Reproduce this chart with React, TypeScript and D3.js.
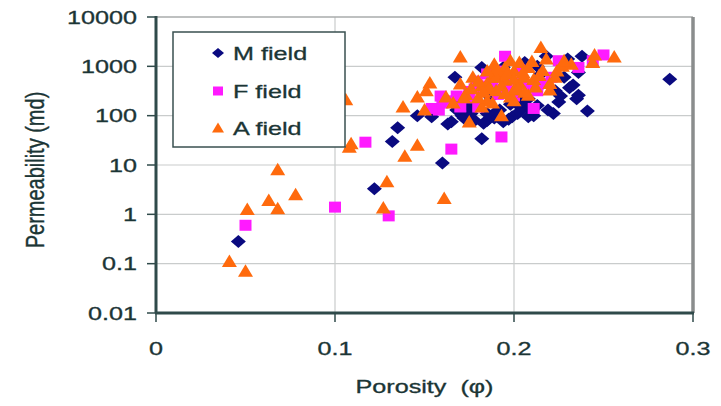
import React, { useEffect, useRef } from 'react';
import * as d3 from 'd3';

// M field (navy diamonds)
const mPhi = [0.046, 0.122, 0.132, 0.135, 0.16, 0.182, 0.287, 0.241, 0.167, 0.146, 0.154, 0.163, 0.218, 0.23, 0.236, 0.235, 0.231, 0.222, 0.225, 0.211, 0.202, 0.194, 0.189, 0.185, 0.194, 0.182, 0.17, 0.213, 0.223, 0.207, 0.198, 0.203, 0.216, 0.175, 0.171, 0.187, 0.206, 0.192, 0.199, 0.219, 0.228, 0.233, 0.208, 0.196, 0.178, 0.215, 0.226, 0.201, 0.238, 0.236, 0.165, 0.172, 0.178, 0.183, 0.19, 0.197, 0.203, 0.208, 0.21, 0.213, 0.205, 0.185, 0.176, 0.168];
const mK = [0.28, 3.3, 30, 57, 11, 34, 550, 125, 600, 100, 95, 68, 1600, 1400, 750, 220, 370, 110, 190, 100, 110, 75, 90, 80, 950, 950, 200, 1000, 320, 150, 170, 280, 450, 150, 100, 230, 1200, 130, 95, 130, 600, 420, 220, 300, 170, 700, 250, 180, 1600, 260, 75, 90, 80, 70, 120, 85, 120, 95, 130, 160, 200, 110, 110, 130];

// F field (magenta squares)
const fPhi = [0.05, 0.1, 0.13, 0.117, 0.165, 0.193, 0.211, 0.195, 0.25, 0.244, 0.225, 0.236, 0.158, 0.159, 0.179, 0.175, 0.17, 0.18, 0.188, 0.198, 0.208, 0.213, 0.203, 0.185, 0.175, 0.221, 0.191, 0.154, 0.164, 0.19, 0.183, 0.178, 0.196, 0.2, 0.205, 0.215, 0.168, 0.16];
const fK = [0.6, 1.4, 0.93, 29, 21, 37, 140, 1600, 1700, 1300, 1300, 950, 130, 250, 500, 230, 150, 150, 450, 550, 370, 320, 850, 700, 310, 600, 270, 140, 200, 800, 400, 350, 350, 250, 500, 450, 250, 180];

// A field (orange triangles)
const aPhi = [0.041, 0.05, 0.051, 0.063, 0.068, 0.068, 0.078, 0.106, 0.108, 0.109, 0.129, 0.127, 0.139, 0.146, 0.161, 0.138, 0.146, 0.153, 0.151, 0.15, 0.17, 0.175, 0.193, 0.215, 0.256, 0.245, 0.244, 0.162, 0.17, 0.177, 0.182, 0.185, 0.189, 0.19, 0.195, 0.198, 0.2, 0.203, 0.206, 0.208, 0.211, 0.216, 0.22, 0.223, 0.227, 0.22, 0.182, 0.188, 0.193, 0.2, 0.18, 0.195, 0.21, 0.232, 0.173, 0.203, 0.185, 0.208, 0.18, 0.186, 0.19, 0.193, 0.196, 0.2, 0.202, 0.205, 0.198, 0.19, 0.185, 0.176, 0.172, 0.166, 0.214, 0.218, 0.224, 0.228, 0.212, 0.195, 0.188, 0.183, 0.2, 0.206];
const aK = [0.11, 0.07, 1.25, 1.9, 1.3, 8, 2.5, 210, 23, 27, 4.6, 1.35, 15, 25, 2.1, 150, 240, 460, 320, 130, 1550, 74, 100, 2400, 1550, 1700, 1200, 240, 440, 600, 400, 200, 1100, 320, 520, 240, 800, 450, 600, 950, 540, 820, 450, 600, 1000, 330, 150, 600, 700, 330, 230, 950, 1250, 1100, 270, 1200, 450, 260, 500, 350, 600, 400, 700, 550, 350, 750, 1300, 900, 800, 350, 230, 180, 650, 1400, 800, 1300, 380, 280, 180, 300, 200, 300];

const xTicks = [0, 0.1, 0.2, 0.3];
const yTicks = [0.01, 0.1, 1, 10, 100, 1000, 10000];
const yTickLabels = ['0.01', '0.1', '1', '10', '100', '1000', '10000'];
const seriesNames = ['M field', 'F field', 'A field'];

const diamond = 'M0,-6.5L7.5,0L0,6.5L-7.5,0Z';
const square = 'M-6,-5.5h12v11h-12Z';
const triangle = 'M0,-7L7.5,5.5L-7.5,5.5Z';

const App = () => {
  const svgRef = useRef<SVGSVGElement>(null);

  useEffect(() => {
    const svg = d3.select(svgRef.current);
    const width = 721;
    const height = 406;
    const plot = { left: 156, right: 693, top: 17, bottom: 313 };
    const font = 'Liberation Sans, Arial, sans-serif';
    const textColor = '#1b3535';
    const stretch = 1.4;

    svg.attr('width', width).attr('height', height);
    svg.append('rect').attr('width', width).attr('height', height).attr('fill', '#fff');

    const x = d3.scaleLinear().domain([0, 0.3]).range([plot.left, plot.right]);
    const y = d3.scaleLog().domain([0.01, 10000]).range([plot.bottom, plot.top]);

    // gridlines
    svg
      .selectAll('line.hgrid')
      .data(yTicks.slice(1, -1))
      .enter()
      .append('line')
      .attr('x1', plot.left)
      .attr('x2', plot.right)
      .attr('y1', (d) => y(d))
      .attr('y2', (d) => y(d))
      .attr('stroke', '#c9cccc')
      .attr('stroke-width', 1.2);

    svg
      .selectAll('line.vgrid')
      .data(xTicks.slice(1, -1))
      .enter()
      .append('line')
      .attr('x1', (d) => x(d))
      .attr('x2', (d) => x(d))
      .attr('y1', plot.top)
      .attr('y2', plot.bottom)
      .attr('stroke', '#c9cccc')
      .attr('stroke-width', 1.2);

    // top and right border
    svg.append('line').attr('x1', plot.left).attr('x2', plot.right).attr('y1', plot.top).attr('y2', plot.top).attr('stroke', '#a8abab').attr('stroke-width', 1.5);
    svg.append('line').attr('x1', plot.right).attr('x2', plot.right).attr('y1', plot.top).attr('y2', plot.bottom).attr('stroke', '#8a8d8d').attr('stroke-width', 3.5);

    // points, drawn series by series
    const drawSeries = (phi: number[], k: number[], shape: string, color: string) => {
      svg
        .append('g')
        .selectAll('path')
        .data(phi.map((p, i) => [p, k[i]]))
        .enter()
        .append('path')
        .attr('d', shape)
        .attr('transform', (d) => `translate(${x(d[0])},${y(d[1])})`)
        .attr('fill', color);
    };
    drawSeries(mPhi, mK, diamond, '#0a0a80');
    drawSeries(fPhi, fK, square, '#ff1aff');
    drawSeries(aPhi, aK, triangle, '#ff6a0d');

    // axes
    svg.append('line').attr('x1', plot.left).attr('x2', plot.left).attr('y1', plot.top - 1).attr('y2', plot.bottom).attr('stroke', '#2f4a4a').attr('stroke-width', 3);
    svg.append('line').attr('x1', plot.left - 1).attr('x2', plot.right + 1).attr('y1', plot.bottom).attr('y2', plot.bottom).attr('stroke', '#2f4a4a').attr('stroke-width', 3);

    svg
      .selectAll('line.ytick')
      .data(yTicks)
      .enter()
      .append('line')
      .attr('x1', plot.left - 9)
      .attr('x2', plot.left)
      .attr('y1', (d) => y(d))
      .attr('y2', (d) => y(d))
      .attr('stroke', '#2f4a4a')
      .attr('stroke-width', 1.5);

    svg
      .selectAll('line.xtick')
      .data(xTicks)
      .enter()
      .append('line')
      .attr('x1', (d) => x(d))
      .attr('x2', (d) => x(d))
      .attr('y1', plot.bottom)
      .attr('y2', plot.bottom + 9)
      .attr('stroke', '#2f4a4a')
      .attr('stroke-width', 1.5);

    // text is horizontally widened like the source picture
    const addText = (tx: number, ty: number, str: string, anchor: string, size: number) =>
      svg
        .append('text')
        .attr('transform', `translate(${tx},${ty}) scale(${stretch},1)`)
        .attr('text-anchor', anchor)
        .attr('font-family', font)
        .attr('font-size', size)
        .attr('fill', textColor)
        .attr('stroke', textColor)
        .attr('stroke-width', 0.3)
        .text(str);

    yTicks.forEach((d, i) => addText(137, y(d) + 6.5, yTickLabels[i], 'end', 18));
    xTicks.forEach((d) => addText(x(d), 355, String(d), 'middle', 18));

    addText((plot.left + plot.right) / 2, 393, 'Porosity\u00a0 (φ)', 'middle', 18);

    svg
      .append('text')
      .attr('transform', `translate(44,170) rotate(-90) scale(1,1.25)`)
      .attr('text-anchor', 'middle')
      .attr('font-family', font)
      .attr('font-size', 20)
      .attr('fill', textColor)
      .attr('stroke', textColor)
      .attr('stroke-width', 0.3)
      .text('Permeability (md)');

    // legend
    const legend = svg.append('g');
    legend
      .append('rect')
      .attr('x', 173)
      .attr('y', 32)
      .attr('width', 172)
      .attr('height', 115)
      .attr('fill', '#fff')
      .attr('stroke', '#3a5050')
      .attr('stroke-width', 1.5);

    const legendShapes = [
      { shape: 'M0,-5L6,0L0,5L-6,0Z', color: '#0a0a80' },
      { shape: 'M-5,-4.5h10v9h-10Z', color: '#ff1aff' },
      { shape: 'M0,-5.5L6,4.5L-6,4.5Z', color: '#ff6a0d' },
    ];
    const legendY = [53, 91, 128];
    seriesNames.forEach((name, i) => {
      legend
        .append('path')
        .attr('d', legendShapes[i].shape)
        .attr('transform', `translate(218,${legendY[i]})`)
        .attr('fill', legendShapes[i].color);
      addText(233, legendY[i] + 7, name, 'start', 18);
    });

    return () => {
      svg.selectAll('*').remove();
    };
  }, []);

  return (
    <svg
      ref={svgRef}
      style={{ position: 'absolute', left: 0, top: 0, display: 'block' }}
    ></svg>
  );
};

export default App;
